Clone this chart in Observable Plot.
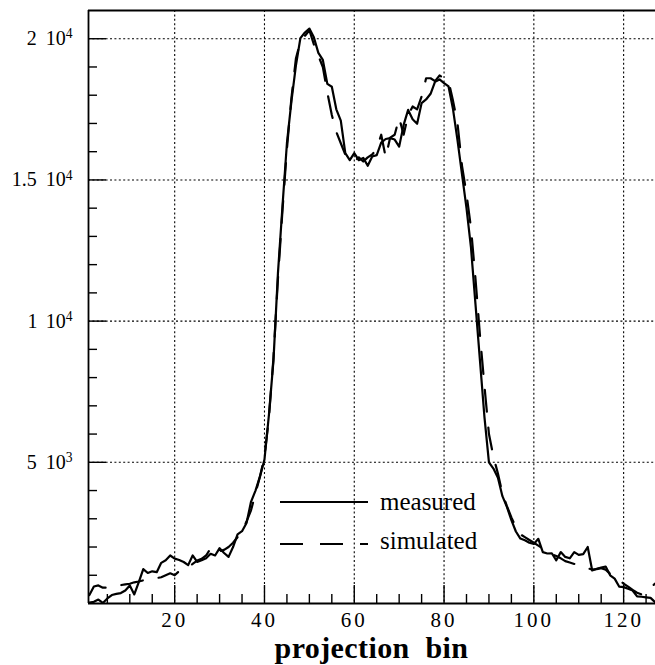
<!DOCTYPE html>
<html>
<head>
<meta charset="utf-8">
<script src="https://cdn.jsdelivr.net/npm/d3@7"></script>
<script src="https://cdn.jsdelivr.net/npm/@observablehq/plot@0.6"></script>
<style>
  body { margin: 0; background: #fff; }
  #chart svg { display: block; }
</style>
</head>
<body>
<div id="chart"></div>
<script>
// ---- data ----
const bins = d3.range(1, 128);
const measured = [
  30, 60, 140, 20, 180, 300, 340, 370, 460, 640,
  320, 760, 1220, 1080, 1140, 1110, 1440, 1530, 1700, 1590,
  1540, 1470, 1360, 1700, 1470, 1530, 1600, 1760, 1700, 1960,
  1790, 1650, 2000, 2450, 2560, 2850, 3600, 4000, 4500, 5100,
  6700, 8600, 11700, 14050, 16300, 17780, 19050, 20020, 20220, 20360,
  20050, 19500, 19250, 18400, 18300, 17500, 17100, 15950, 15700, 15950,
  15700, 15780, 15500, 15830, 15880, 16320, 16450, 16480, 16430, 16180,
  16950, 17480, 17150, 16990, 17720, 17850, 18050, 18480, 18560, 18430,
  18310, 17500, 16400, 15200, 14000, 12600, 10600, 8600, 6600, 5000,
  4780, 4450, 3800, 3420, 2950, 2550, 2300, 2240, 2150, 2110,
  2290, 1820, 1770, 1780, 1530, 1820, 1650, 1600, 1820, 1720,
  1750, 2000, 1170, 1230, 1270, 1310, 1000, 880, 600, 580,
  520, 460, 250, 240, 220, 200, 50
];
const simulated = [
  300, 600, 640, 560, 560, 580, 610, 650, 680, 700,
  750, 780, 820, 850, 880, 900, 930, 1000, 1070, 1000,
  1150, 1230, 1300, 1400, 1520, 1580, 1700, 1950, 1780, 1850,
  1900, 2000, 2150, 2350, 2600, 2900, 3300, 3900, 4500, 5200,
  6600, 8700, 11500, 13900, 16100, 17900, 19300, 19900, 20100, 20300,
  19800, 19400, 19000, 18100, 17300, 16700, 16300, 15900, 15750, 15650,
  15800, 15650, 15800, 15900, 16100, 16600, 15800, 16500, 16600, 17200,
  16600, 17300, 17600, 17500, 17950, 18600, 18600, 18500, 18700, 18600,
  18500, 17800, 17000, 15500, 14500, 13300, 11500, 9500, 7700, 6000,
  5200, 4600, 3900, 3450, 3050, 2700, 2450, 2350, 2250, 2150,
  2050, 1950, 1850, 1750, 1680, 1600, 1500, 1450, 1400, 1350,
  1300, 1250, 1200, 1220, 1250, 1200, 1050, 950, 850, 700,
  600, 480, 380, 320, 450, 580, 700
];
const xTicks = [20, 40, 60, 80, 100, 120];
const xTickLabels = ["20", "40", "60", "80", "100", "120"];
const yTicks = [5000, 10000, 15000, 20000];
const yMantissa = ["5", "1", "1.5", "2"];
const yExponent = ["3", "4", "4", "4"];
const seriesNames = ["measured", "simulated"];
const xLabel = "projection bin";

const xDomain = [0.8, 127.1];
const yDomain = [0, 21000];

// ---- layout ----
const W = 655, H = 665;
const mL = 88, mR = 0, mT = 10, mB = 62;
const frameW = W - mL - mR, frameH = H - mT - mB;

const table = bins.map((b, i) => ({bin: b, measured: measured[i], simulated: simulated[i]}));
const xMinor = d3.range(5, 127, 5).filter(v => !xTicks.includes(v));
const yMinor = d3.range(1000, 21000, 1000).filter(v => !yTicks.includes(v));

const grid = {stroke: "#000", strokeWidth: 1.1, strokeDasharray: "2,2.4"};
const font = "'Liberation Serif', 'Times New Roman', serif";

const chart = Plot.plot({
  width: W, height: H,
  marginLeft: mL, marginRight: mR, marginTop: mT, marginBottom: mB,
  style: {fontFamily: font, background: "#fff", color: "#000"},
  x: {domain: xDomain, axis: null},
  y: {domain: yDomain, axis: null},
  marks: [
    // dotted grid
    Plot.ruleX(xTicks, {x: d => d, ...grid}),
    Plot.ruleY(yTicks, {y: d => d, ...grid}),
    // inward major ticks (solid)
    Plot.tickX(xTicks, {x: d => d, stroke: "#000", strokeWidth: 1.4, insetTop: frameH - 18}),
    Plot.tickY(yTicks, {y: d => d, stroke: "#000", strokeWidth: 1.4, insetRight: frameW - 18}),
    // inward minor ticks
    Plot.tickX(xMinor, {x: d => d, stroke: "#000", strokeWidth: 1.4, insetTop: frameH - 9}),
    Plot.tickY(yMinor, {y: d => d, stroke: "#000", strokeWidth: 1.4, insetRight: frameW - 9}),
    // frame lines
    Plot.ruleX([xDomain[0]], {x: d => d, stroke: "#000", strokeWidth: 1.8}),
    Plot.ruleY([yDomain[0]], {y: d => d, stroke: "#000", strokeWidth: 1.8}),
    Plot.ruleY([yDomain[1]], {y: d => d, stroke: "#000", strokeWidth: 1.8}),
    // series
    Plot.line(table, {x: "bin", y: "simulated", stroke: "#000", strokeWidth: 2.2, strokeDasharray: "22,16"}),
    Plot.line(table, {x: "bin", y: "measured", stroke: "#000", strokeWidth: 2.2}),
    // tick labels
    Plot.text(xTicks, {x: d => d, text: (d, i) => xTickLabels[i], frameAnchor: "bottom", lineAnchor: "bottom", dy: 23, fontSize: 21, fill: "#000"}),
    Plot.text(yTicks, {y: d => d, text: (d, i) => yMantissa[i] + "|10^" + yExponent[i], frameAnchor: "left", textAnchor: "end", lineAnchor: "middle", dx: -16, fontSize: 20, fill: "#000"})
  ]
});

const svg = d3.select(chart);

// letter spacing on x tick labels
svg.selectAll("text").filter(function() { return xTickLabels.includes(this.textContent); })
  .attr("letter-spacing", 3);

// superscript exponents on y tick labels
svg.selectAll("text").filter(function() { return this.textContent.includes("^"); })
  .each(function() {
    const t = this.textContent;
    const [mant, rest] = t.split("|");
    const [base, exp] = rest.split("^");
    const sel = d3.select(this);
    sel.text(null);
    sel.append("tspan").text(mant);
    sel.append("tspan").attr("dx", 9).text(base);
    sel.append("tspan").attr("dy", "-0.5em").attr("font-size", "0.68em").text(exp);
  });

// legend (inside the frame, pixel-placed)
const lg = svg.append("g").attr("font-family", font).attr("font-size", 25)
  .attr("fill", "#000").attr("text-anchor", "start");
lg.append("line").attr("x1", 280).attr("x2", 368).attr("y1", 502).attr("y2", 502)
  .attr("stroke", "#000").attr("stroke-width", 1.8);
lg.append("line").attr("x1", 280).attr("x2", 368).attr("y1", 544).attr("y2", 544)
  .attr("stroke", "#000").attr("stroke-width", 1.8).attr("stroke-dasharray", "23,17");
lg.append("text").attr("x", 380).attr("y", 510).text(seriesNames[0]);
lg.append("text").attr("x", 380).attr("y", 549).text(seriesNames[1]);

// x axis title
svg.append("text")
  .attr("x", mL + frameW / 2).attr("y", 658)
  .attr("text-anchor", "middle")
  .attr("font-family", font).attr("font-weight", "bold").attr("font-size", 30)
  .attr("word-spacing", 8)
  .attr("letter-spacing", 0.4)
  .attr("fill", "#000")
  .text(xLabel);

document.getElementById("chart").appendChild(chart);
</script>
</body>
</html>
